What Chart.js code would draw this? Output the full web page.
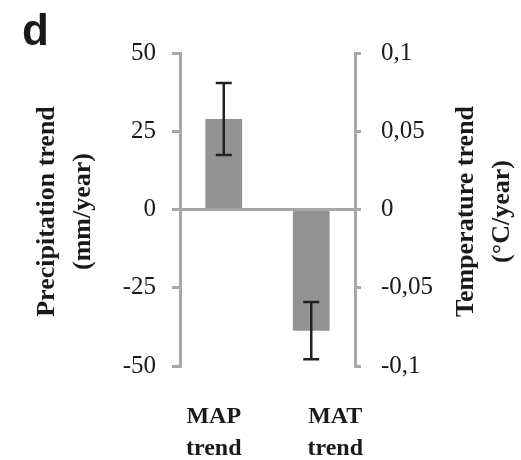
<!DOCTYPE html>
<html>
<head>
<meta charset="utf-8">
<script src="https://cdn.jsdelivr.net/npm/chart.js@4/dist/chart.umd.min.js"></script>
<style>
  html, body { margin: 0; padding: 0; background: #fff; }
  canvas { display: block; }
</style>
</head>
<body>
<canvas id="trendChart" width="521" height="460"></canvas>
<script>
// Datos
const categories = ['MAP trend', 'MAT trend'];
const categoryLines = [['MAP', 'trend'], ['MAT', 'trend']];
const precipTrend = [28.9, null];      // mm/year
const precipError = [11.5, null];
const tempTrend = [null, -0.0774];     // °C/year
const tempError = [null, 0.0183];
const precipTicks = [-50, -25, 0, 25, 50];
const tempTicks = [-0.1, -0.05, 0, 0.05, 0.1];
const leftTitle = ['Precipitation trend', '(mm/year)'];
const rightTitle = ['Temperature trend', '(°C/year)'];
const panelLetter = 'd';

const axisGray = '#a7a7a7';
const barGray = '#939393';
const textColor = '#1a1a1a';
const serif = '"Liberation Serif", "Times New Roman", serif';

// barras de error
const errorBars = {
  id: 'errorBars',
  afterDatasetsDraw(chart) {
    const ctx = chart.ctx;
    const errs = [precipError, tempError];
    chart.data.datasets.forEach((ds, i) => {
      const meta = chart.getDatasetMeta(i);
      const scale = chart.scales[ds.yAxisID];
      meta.data.forEach((bar, j) => {
        const v = ds.data[j];
        const e = errs[i][j];
        if (v == null || e == null) return;
        const yTop = scale.getPixelForValue(v + e);
        const yBot = scale.getPixelForValue(v - e);
        ctx.save();
        ctx.strokeStyle = '#222';
        ctx.lineWidth = 2.5;
        ctx.beginPath();
        ctx.moveTo(bar.x, yTop); ctx.lineTo(bar.x, yBot);
        ctx.moveTo(bar.x - 8, yTop); ctx.lineTo(bar.x + 8, yTop);
        ctx.moveTo(bar.x - 8, yBot); ctx.lineTo(bar.x + 8, yBot);
        ctx.stroke();
        ctx.restore();
      });
    });
  }
};

// textos: títulos de ejes, categorías y letra del panel
const extraText = {
  id: 'extraText',
  afterDraw(chart) {
    const ctx = chart.ctx;
    const area = chart.chartArea;
    const midY = (area.top + area.bottom) / 2;
    ctx.save();
    ctx.fillStyle = textColor;

    ctx.font = 'bold 44px "Liberation Sans", Arial, sans-serif';
    ctx.textAlign = 'left';
    ctx.textBaseline = 'alphabetic';
    ctx.fillText(panelLetter, 22, 45);

    // títulos verticales (leídos de abajo hacia arriba)
    ctx.font = 'bold 26px ' + serif;
    ctx.textAlign = 'center';
    ctx.textBaseline = 'middle';
    const drawVertical = (lines, xs) => {
      lines.forEach((t, k) => {
        ctx.save();
        ctx.translate(xs[k], midY + 2);
        ctx.rotate(-Math.PI / 2);
        ctx.fillText(t, 0, 0);
        ctx.restore();
      });
    };
    drawVertical(leftTitle, [47, 83]);
    drawVertical(rightTitle, [466, 502]);

    // etiquetas de categoría
    const x = chart.scales.x;
    const nudge = [-10, 24];
    ctx.font = 'bold 24px ' + serif;
    ctx.textBaseline = 'alphabetic';
    categoryLines.forEach((lines, i) => {
      const cx = x.getPixelForValue(i) + nudge[i];
      ctx.fillText(lines[0], cx, 423);
      ctx.fillText(lines[1], cx, 455);
    });
    ctx.restore();
  }
};

const fmtComma = v => {
  const r = Math.round(v * 100) / 100;
  return String(r).replace('.', ',');
};

new Chart(document.getElementById('trendChart').getContext('2d'), {
  type: 'bar',
  data: {
    labels: categories,
    datasets: [
      {
        label: 'Precipitation trend',
        data: precipTrend,
        yAxisID: 'y',
        backgroundColor: barGray,
        borderWidth: 0,
        grouped: false,
        barPercentage: 0.42,
        categoryPercentage: 1
      },
      {
        label: 'Temperature trend',
        data: tempTrend,
        yAxisID: 'y1',
        backgroundColor: barGray,
        borderWidth: 0,
        grouped: false,
        barPercentage: 0.42,
        categoryPercentage: 1
      }
    ]
  },
  options: {
    responsive: false,
    animation: false,
    layout: { padding: { top: 53, bottom: 94, left: 0, right: 0 } },
    plugins: {
      legend: { display: false },
      tooltip: { enabled: false }
    },
    scales: {
      x: { display: false, offset: true },
      y: {
        position: 'left',
        min: -50, max: 50,
        afterFit: s => { s.width = 180; },
        afterBuildTicks: s => { s.ticks = precipTicks.map(v => ({ value: v })); },
        ticks: { color: textColor, font: { family: serif, size: 25 }, padding: 16 },
        grid: {
          color: c => (c.tick && c.tick.value === 0 ? axisGray : 'transparent'),
          tickColor: axisGray,
          lineWidth: 3,
          tickLength: 8
        },
        border: { color: axisGray, width: 3 }
      },
      y1: {
        position: 'right',
        min: -0.1, max: 0.1,
        afterFit: s => { s.width = 166; },
        afterBuildTicks: s => { s.ticks = tempTicks.map(v => ({ value: v })); },
        ticks: { color: textColor, font: { family: serif, size: 25 }, padding: 20, callback: fmtComma },
        grid: { drawOnChartArea: false, tickColor: axisGray, lineWidth: 3, tickLength: 6 },
        border: { color: axisGray, width: 3 }
      }
    }
  },
  plugins: [errorBars, extraText]
});
</script>
</body>
</html>
